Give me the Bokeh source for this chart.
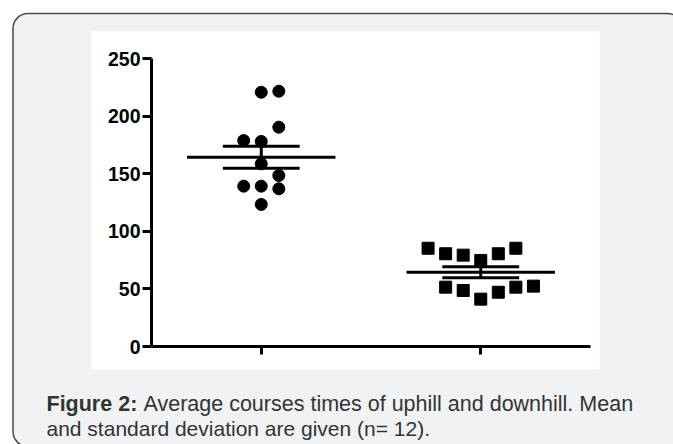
from bokeh.plotting import figure
from bokeh.models import Range1d, LinearAxis, FixedTicker
from bokeh.core.properties import value
from bokeh.embed import file_html
from bokeh.resources import INLINE

# ---------------- data ----------------
groups = ["Uphill", "Downhill"]
uphill_values = [220.7, 221.6, 190.4, 178.8, 178.0, 158.6, 148.4, 139.2, 139.2, 136.9, 123.3]
uphill_column = [0, 1, 1, -1, 0, 0, 1, -1, 0, 1, 0]
downhill_values = [85.3, 80.5, 79.3, 74.7, 80.5, 85.3, 51.5, 48.6, 41.1, 47.1, 51.5, 52.4]
downhill_column = [-3, -2, -1, 0, 1, 2, -2, -1, 0, 1, 2, 3]
group_means = [164.3, 64.5]
group_errors = [9.6, 4.8]
y_ticks = [0, 50, 100, 150, 200, 250]
caption_bold = "Figure 2:"
caption_line1 = "Average courses times of uphill and downhill. Mean"
caption_line2 = "and standard deviation are given (n= 12)."

# ---------------- layout (page pixels) ----------------
W, H = 673, 444
AX_X0, AX_X1 = 151, 590      # x axis ends (categories 0.5 .. 2.5)
AX_Y0, AX_Y1 = 346, 58       # y = 0 and y = 250
JIT = 0.08                    # jitter column width in category units
MEAN_HALF = 0.338
SD_HALF = 0.175

FONT = "Liberation Sans"

p = figure(width=W, height=H, output_backend="svg", toolbar_location=None,
           x_range=Range1d(0, W), y_range=Range1d(H, 0),
           x_axis_type=None, y_axis_type=None, min_border=0,
           outline_line_color=None, background_fill_color="white",
           border_fill_color="white")

# category / value ranges mapped onto the same frame
cx = 2.0 / (AX_X1 - AX_X0)
p.extra_x_ranges = {"cat": Range1d(0.5 - AX_X0 * cx, 2.5 + (W - AX_X1) * cx)}
vy = 250.0 / (AX_Y0 - AX_Y1)
p.extra_y_ranges = {"val": Range1d(0 - (H - AX_Y0) * vy, 250 + AX_Y1 * vy)}

# background card and white chart panel
p.quad(left=[12.5], right=[682], top=[13], bottom=[446], fill_color="#f1f2f4",
       line_color="#4a4a4a", line_width=1.5, border_radius=15)
p.quad(left=[91], right=[599], top=[31], bottom=[369], fill_color="white",
       line_color=None)

# points
ux = [1 + c * JIT for c in uphill_column]
dx = [2 + c * JIT for c in downhill_column]
p.scatter(x=ux, y=uphill_values, marker="circle", size=12, color="black",
          x_range_name="cat", y_range_name="val")
p.scatter(x=dx, y=downhill_values, marker="square", size=12, color="black",
          x_range_name="cat", y_range_name="val")

# mean and error bars
pos = [1, 2]
p.segment(x0=[x - MEAN_HALF for x in pos], x1=[x + MEAN_HALF for x in pos],
          y0=group_means, y1=group_means, line_width=3, color="black",
          x_range_name="cat", y_range_name="val")
hi = [m + e for m, e in zip(group_means, group_errors)]
lo = [m - e for m, e in zip(group_means, group_errors)]
for yy in (hi, lo):
    p.segment(x0=[x - SD_HALF for x in pos], x1=[x + SD_HALF for x in pos],
              y0=yy, y1=yy, line_width=3, color="black",
              x_range_name="cat", y_range_name="val")
p.segment(x0=pos, x1=pos, y0=lo, y1=hi, line_width=3, color="black",
          x_range_name="cat", y_range_name="val")

# axes
yax = LinearAxis(x_range_name="cat", y_range_name="val", fixed_location=0.5,
                 bounds=(0, 250), ticker=FixedTicker(ticks=y_ticks))
yax.axis_line_width = 3
yax.major_tick_line_width = 3
yax.major_tick_out = 9
yax.major_tick_in = 0
yax.minor_tick_line_color = None
yax.major_label_text_font = FONT
yax.major_label_text_font_style = "bold"
yax.major_label_text_font_size = "19.5px"
yax.major_label_text_color = "black"
yax.major_label_standoff = 2
p.add_layout(yax, "left")

xax = LinearAxis(x_range_name="cat", y_range_name="val", fixed_location=0,
                 bounds=(0.5, 2.5), ticker=FixedTicker(ticks=pos))
xax.axis_line_width = 3
xax.major_tick_line_width = 3
xax.major_tick_out = 8
xax.major_tick_in = 0
xax.minor_tick_line_color = None
xax.major_label_overrides = {1: "", 2: ""}
p.add_layout(xax, "below")

# caption
p.text(x=[46], y=[403.5], text=[caption_bold], text_font=value(FONT),
       text_font_style="bold", text_font_size="21.5px", text_color="#333333",
       text_baseline="alphabetic", text_align="left")
p.text(x=[143], y=[403.5], text=[caption_line1], text_font=value(FONT),
       text_font_size="21.5px", text_color="#333333",
       text_baseline="alphabetic", text_align="left")
p.text(x=[46], y=[428], text=[caption_line2], text_font=value(FONT),
       text_font_size="21px", text_color="#333333",
       text_baseline="alphabetic", text_align="left")

open("out.html", "w").write(file_html(p, INLINE))
